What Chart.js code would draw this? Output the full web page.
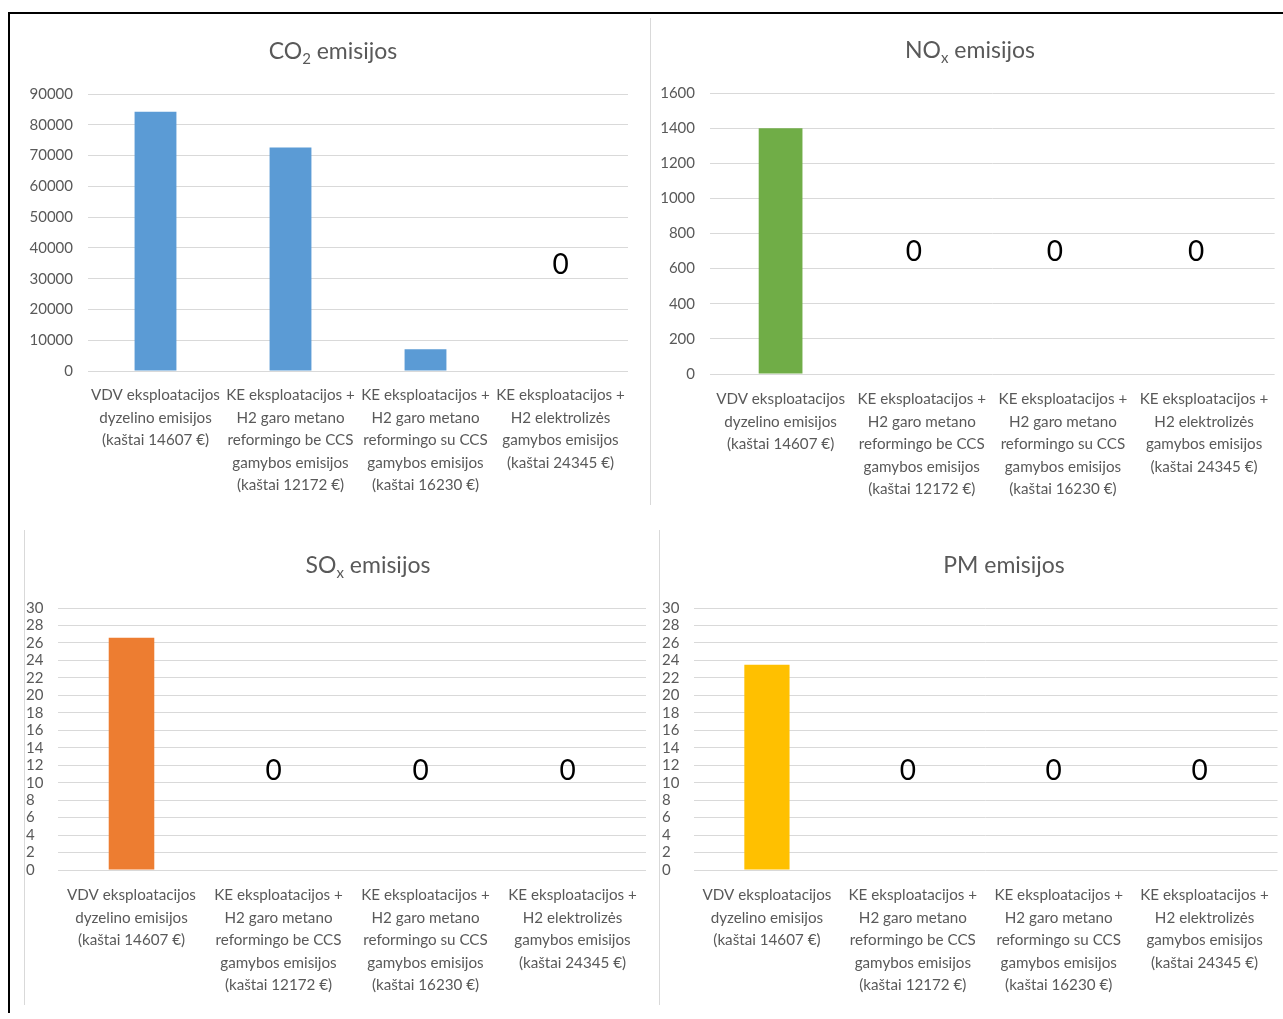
<!DOCTYPE html>
<html lang="lt">
<head>
<meta charset="utf-8">
<title>Emisijos</title>
<script src="https://cdn.jsdelivr.net/npm/chart.js@4/dist/chart.umd.min.js"></script>
<style>
  html, body { margin: 0; padding: 0; background: #fff; }
  body { width: 1283px; height: 1019px; position: relative; overflow: hidden; }
  canvas { position: absolute; }
  .frame-top { position: absolute; left: 8px; top: 12px; width: 1275px; height: 2px; background: #000; }
  .frame-left { position: absolute; left: 8px; top: 12px; width: 2px; height: 1001px; background: #000; }
  .sep { position: absolute; width: 1px; background: #d9d9d9; }
</style>
</head>
<body>
<div class="frame-top"></div>
<div class="frame-left"></div>
<div class="sep" style="left:650px;top:18px;height:487px"></div>
<div class="sep" style="left:24px;top:530px;height:475px"></div>
<div class="sep" style="left:659px;top:530px;height:475px"></div>

<canvas id="co2" width="640" height="490" style="left:10px;top:14px"></canvas>
<canvas id="nox" width="631" height="490" style="left:652px;top:14px"></canvas>
<canvas id="sox" width="630" height="490" style="left:26px;top:520px"></canvas>
<canvas id="pm" width="621" height="490" style="left:662px;top:520px"></canvas>

<script>
// Scenario names shown under every chart
const categories = [
  ['VDV eksploatacijos', 'dyzelino emisijos', '(kaštai 14607 €)'],
  ['KE eksploatacijos +', 'H2 garo metano', 'reformingo be CCS', 'gamybos emisijos', '(kaštai 12172 €)'],
  ['KE eksploatacijos +', 'H2 garo metano', 'reformingo su CCS', 'gamybos emisijos', '(kaštai 16230 €)'],
  ['KE eksploatacijos +', 'H2 elektrolizės', 'gamybos emisijos', '(kaštai 24345 €)']
];

// Emission values per scenario
const co2Values = [84200, 72600, 7100, 0];
const noxValues = [1400, 0, 0, 0];
const soxValues = [26.6, 0, 0, 0];
const pmValues  = [23.5, 0, 0, 0];

// Value axes: maximum and step of the tick labels
const co2Axis = { max: 90000, step: 10000 };
const noxAxis = { max: 1600, step: 200 };
const soxAxis = { max: 30, step: 2 };
const pmAxis  = { max: 30, step: 2 };

// Titles: [main text, subscript, rest]
const co2Title = ['CO', '2', ' emisijos'];
const noxTitle = ['NO', 'x', ' emisijos'];
const soxTitle = ['SO', 'x', ' emisijos'];
const pmTitle  = ['PM', '', ' emisijos'];

const FONT = 'Lato, "Open Sans", "DejaVu Sans", sans-serif';
const GREY_TEXT = '#595959';
const GRID = '#d9d9d9';

// Title with an optional subscript, drawn above the plot
const titlePlugin = {
  id: 'subTitle',
  afterDraw(chart, args, opts) {
    const ctx = chart.ctx;
    const [a, sub, b] = opts.parts;
    const big = `${opts.size}px ${FONT}`;
    const small = `${Math.round(opts.size * 0.66)}px ${FONT}`;
    ctx.save();
    ctx.font = big;
    const wa = ctx.measureText(a).width;
    const wb = ctx.measureText(b).width;
    ctx.font = small;
    const ws = sub ? ctx.measureText(sub).width : 0;
    const total = wa + ws + wb;
    let x = opts.cx - total / 2;
    const y = opts.cy;
    ctx.fillStyle = GREY_TEXT;
    ctx.textBaseline = 'middle';
    ctx.textAlign = 'left';
    ctx.font = big;
    ctx.fillText(a, x, y);
    x += wa;
    if (sub) {
      ctx.font = small;
      ctx.fillText(sub, x, y + opts.size * 0.3);
      x += ws;
    }
    ctx.font = big;
    ctx.fillText(b, x, y);
    ctx.restore();
  }
};

// Value labels for empty bars, raised to a fixed level of the value axis
const zeroLabelPlugin = {
  id: 'zeroLabels',
  afterDatasetsDraw(chart, args, opts) {
    const ctx = chart.ctx;
    const yScale = chart.scales.y;
    const meta = chart.getDatasetMeta(0);
    const values = chart.data.datasets[0].data;
    ctx.save();
    ctx.font = `${opts.size}px ${FONT}`;
    ctx.fillStyle = '#000';
    ctx.textAlign = 'center';
    ctx.textBaseline = 'middle';
    values.forEach((v, i) => {
      if (v === 0) {
        ctx.fillText(String(v), meta.data[i].x + opts.nudge, yScale.getPixelForValue(opts.level));
      }
    });
    ctx.restore();
  }
};

function makeChart(id, values, axis, color, title, geo) {
  return new Chart(document.getElementById(id), {
    type: 'bar',
    data: {
      labels: categories,
      datasets: [{
        data: values,
        backgroundColor: color,
        borderWidth: 0,
        barPercentage: 0.31,
        categoryPercentage: 1.0
      }]
    },
    options: {
      responsive: false,
      animation: false,
      devicePixelRatio: 1,
      layout: { padding: { top: geo.top, right: geo.right, bottom: 0, left: 0 } },
      plugins: {
        legend: { display: false },
        tooltip: { enabled: false },
        title: { display: false },
        subTitle: { parts: title, cx: geo.titleX, cy: geo.titleY, size: 23 },
        zeroLabels: { level: geo.labelLevel, size: 28, nudge: geo.nudge }
      },
      scales: {
        x: {
          grid: { display: false, drawTicks: false },
          border: { display: false },
          ticks: {
            color: GREY_TEXT,
            font: { family: FONT, size: 15.2, lineHeight: 1.48 },
            padding: geo.xPad,
            autoSkip: false,
            maxRotation: 0,
            minRotation: 0
          },
          afterFit(scale) { scale.height = geo.xHeight; }
        },
        y: {
          min: 0,
          max: axis.max,
          grid: { color: GRID, lineWidth: 1, drawTicks: false },
          border: { display: false },
          ticks: {
            stepSize: axis.step,
            autoSkip: false,
            color: GREY_TEXT,
            font: { family: FONT, size: 15 },
            padding: geo.yPad,
            crossAlign: geo.crossAlign,
            callback: v => String(v)
          },
          afterFit(scale) { scale.width = geo.yWidth; }
        }
      }
    },
    plugins: [titlePlugin, zeroLabelPlugin]
  });
}

makeChart('co2', co2Values, co2Axis, '#5b9bd5', co2Title,
  { top: 80, right: 22, yWidth: 78, yPad: 15, crossAlign: 'near', xHeight: 133, xPad: 13,
    titleX: 323, titleY: 38, labelLevel: 34400, nudge: 0 });

makeChart('nox', noxValues, noxAxis, '#70ad47', noxTitle,
  { top: 79, right: 5, yWidth: 58, yPad: 15, crossAlign: 'near', xHeight: 130, xPad: 14,
    titleX: 318, titleY: 37, labelLevel: 695, nudge: -8 });

makeChart('sox', soxValues, soxAxis, '#ed7d31', soxTitle,
  { top: 88, right: 10, yWidth: 32, yPad: 4, crossAlign: 'far', xHeight: 140, xPad: 14,
    titleX: 342, titleY: 46, labelLevel: 11.3, nudge: -5 });

makeChart('pm', pmValues, pmAxis, '#ffc000', pmTitle,
  { top: 88, right: 1, yWidth: 32, yPad: 4, crossAlign: 'far', xHeight: 140, xPad: 14,
    titleX: 342, titleY: 46, labelLevel: 11.3, nudge: -5 });
</script>
</body>
</html>
